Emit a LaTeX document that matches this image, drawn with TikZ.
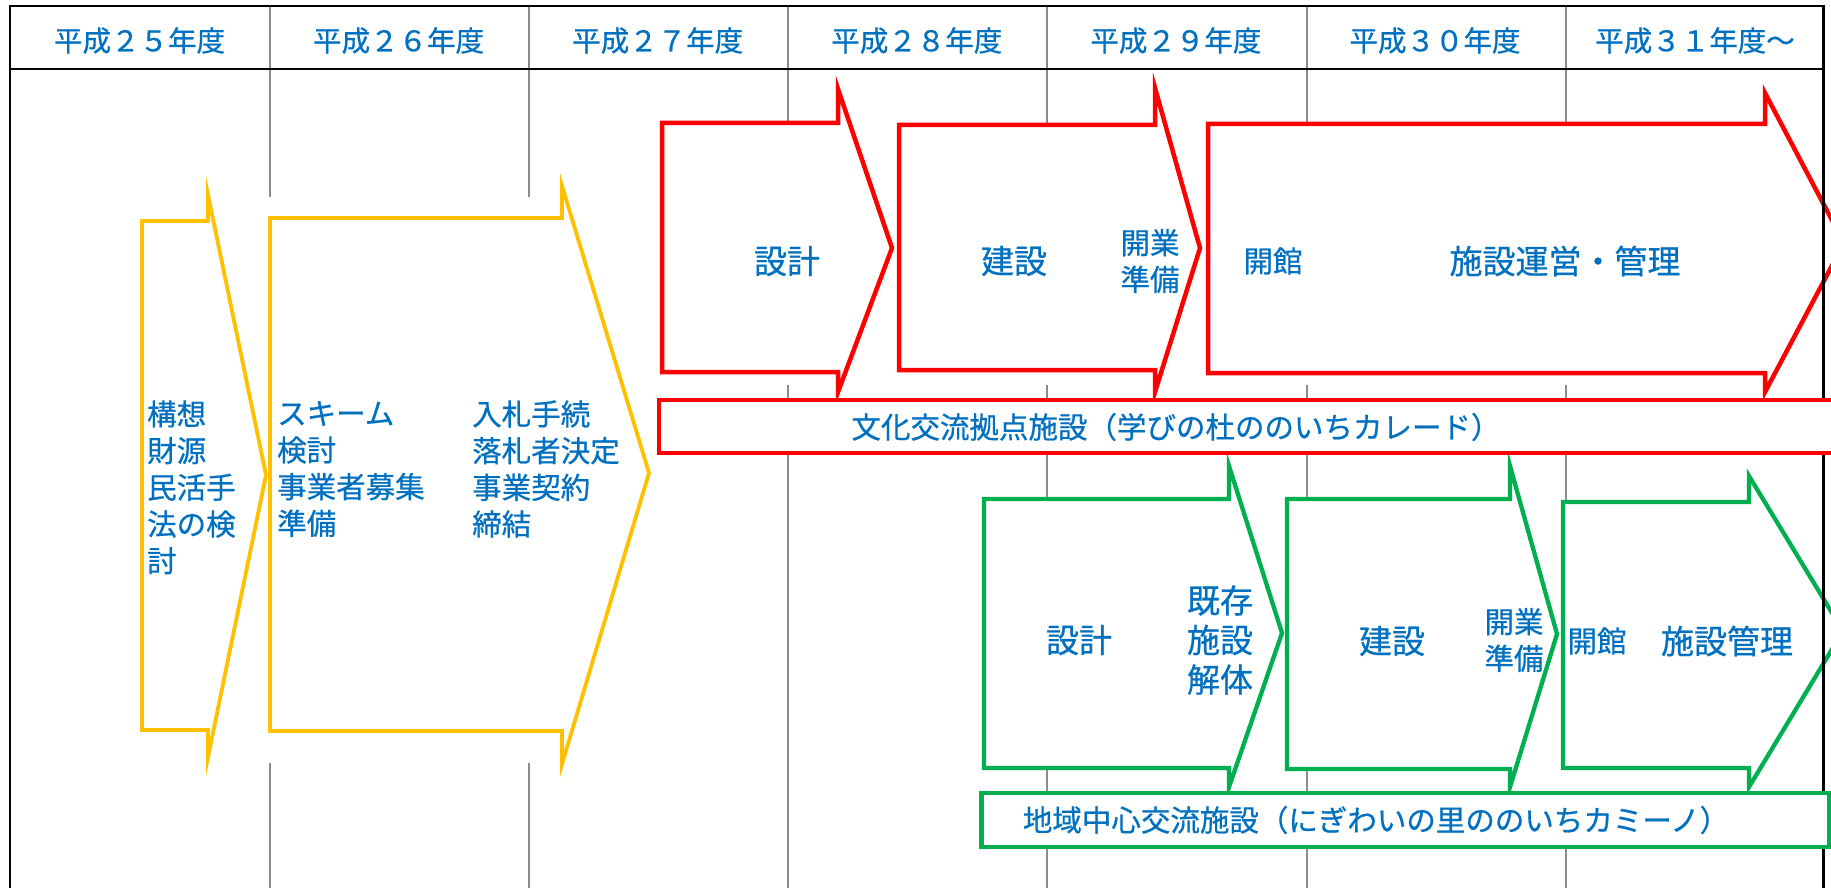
\documentclass[tikz,border=0pt]{standalone}
\usepackage{fontspec}
\setmainfont{Noto Sans CJK JP}[FakeBold=0.6]
\definecolor{tblue}{HTML}{0070C0}
\definecolor{cred}{HTML}{FF0000}
\definecolor{cyellow}{HTML}{FFC000}
\definecolor{cgreen}{HTML}{00B050}
\definecolor{cgray}{HTML}{8C8C8C}
\begin{document}
\begin{tikzpicture}[x=1pt,y=-1pt,
  txt/.style={text=tblue, inner sep=0pt, font=\fontsize{29.5}{36.7}\selectfont, align=center},
  txtl/.style={txt, align=left, anchor=west},
  big/.style={txt, font=\fontsize{33}{39.6}\selectfont},
  hdr/.style={txt, font=\fontsize{28.5}{34}\selectfont},
  gridline/.style={draw=cgray, line width=1.2pt},
  border/.style={draw=black, line width=2.8pt, line join=miter},
  yarrow/.style={draw=cyellow, line width=3.8pt, fill=white, line join=miter, miter limit=12},
  rarrow/.style={draw=cred, line width=4.5pt, fill=white, line join=miter, miter limit=12},
  garrow/.style={draw=cgreen, line width=4.3pt, fill=white, line join=miter, miter limit=12},
  rbox/.style={draw=cred, line width=4.5pt, fill=white},
  gbox/.style={draw=cgreen, line width=4.3pt, fill=white}]
\clip (0,0) rectangle (1831,888);
\fill[white] (0,0) rectangle (1831,888);
% grid lines (gray)
\foreach \x in {270,529} {\draw[gridline] (\x,6) -- (\x,197) (\x,763) -- (\x,888);}
\draw[gridline] (788,6) -- (788,133) (788,385) -- (788,400) (788,453) -- (788,888);
\foreach \x in {1047,1307} {\draw[gridline] (\x,6) -- (\x,133) (\x,385) -- (\x,400) (\x,453) -- (\x,513) (\x,764) -- (\x,793) (\x,847) -- (\x,888);}
\draw[gridline] (1566,6) -- (1566,133) (1566,385) -- (1566,400) (1566,453) -- (1566,500) (1566,847) -- (1566,888);
% yellow arrows
\draw[yarrow] (142,221) -- (208,221) -- (208,195) -- (266,475) -- (208,757) -- (208,730) -- (142,730) -- cycle;
\draw[yarrow] (270,218) -- (562,218) -- (562,186) -- (649,473) -- (562,764) -- (562,731) -- (270,731) -- cycle;
% red arrows
\draw[rarrow] (662,123) -- (838,123) -- (838,89) -- (892,248) -- (838,392) -- (838,372) -- (662,372) -- cycle;
\draw[rarrow] (899,125) -- (1155,125) -- (1155,88) -- (1200,248) -- (1155,392) -- (1155,370) -- (899,370) -- cycle;
\draw[rarrow] (1208,124) -- (1765,124) -- (1765,93) -- (1844,243) -- (1765,392) -- (1765,373) -- (1208,373) -- cycle;
% green arrows
\draw[garrow] (984,499) -- (1229,499) -- (1229,466) -- (1282,633) -- (1229,787) -- (1229,768) -- (984,768) -- cycle;
\draw[garrow] (1287,499) -- (1510,499) -- (1510,466) -- (1557,634) -- (1510,787) -- (1510,769) -- (1287,769) -- cycle;
\draw[garrow] (1563,502) -- (1749,502) -- (1749,476) -- (1843,631) -- (1749,787) -- (1749,768) -- (1563,768) -- cycle;
% table border
\draw[border] (10,888) -- (10,6) -- (1823.5,6) -- (1823.5,888);
\draw[border] (10,69) -- (1823.5,69);
% label boxes
\draw[rbox] (659,400) rectangle (1850,453);
\draw[gbox] (981.5,793) rectangle (1829,847);
% header
\node[hdr] (h25) at (139.6,40.5) {平成２５年度};
\node[hdr] (h26) at (398.6,40.5) {平成２６年度};
\node[hdr] (h27) at (657.7,40.5) {平成２７年度};
\node[hdr] (h28) at (916.8,40.5) {平成２８年度};
\node[hdr] (h29) at (1175.9,40.5) {平成２９年度};
\node[hdr] (h30) at (1435,40.5) {平成３０年度};
\node[hdr] (h31) at (1695,40.5) {平成３１年度～};
% yellow texts
\node[txtl] (y1) at (147,487.3) {構想\\財源\\民活手\\法の検\\討};
\node[txtl] (y2a) at (277,469) {スキーム\\検討\\事業者募集\\準備};
\node[txtl] (y2b) at (472,469) {入札手続\\落札者決定\\事業契約\\締結};
% red texts
\node[big] (r1) at (787,261) {設計};
\node[big] (r2) at (1014,261) {建設};
\node[txt] (r2b) at (1150,261) {開業\\準備};
\node[txt] (r3a) at (1273,261) {開館};
\node[big] (r3b) at (1565,261) {施設運営・管理};
\node[txt] (rlabel) at (1176,427) {文化交流拠点施設（学びの杜ののいちカレード）};
% green texts
\node[big] (g1) at (1079,640) {設計};
\node[big] (g1b) at (1220,640) {既存\\施設\\解体};
\node[big] (g2) at (1392,641) {建設};
\node[txt] (g2b) at (1514,640) {開業\\準備};
\node[txt] (g3a) at (1597,641) {開館};
\node[big] (g3b) at (1727,641) {施設管理};
\node[txt] (glabel) at (1376,820) {地域中心交流施設（にぎわいの里ののいちカミーノ）};
\end{tikzpicture}
\end{document}
